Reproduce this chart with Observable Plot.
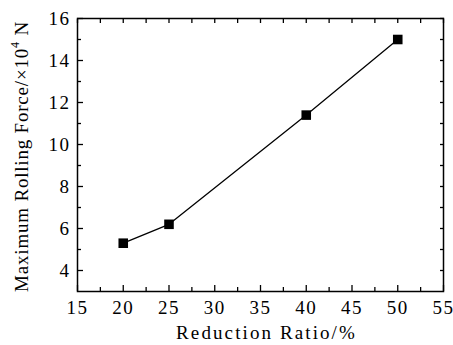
<!DOCTYPE html>
<html>
<head>
<meta charset="utf-8">
<script src="https://cdn.jsdelivr.net/npm/d3@7"></script>
<script src="https://cdn.jsdelivr.net/npm/@observablehq/plot@0.6"></script>
<style>
  html, body { margin: 0; padding: 0; background: white; }
</style>
</head>
<body>
<div id="chart"></div>
<script>
const reduction = [20, 25, 40, 50];
const force = [5.3, 6.2, 11.4, 15.0];
const xTicks = [15, 20, 25, 30, 35, 40, 45, 50, 55];
const xMinorTicks = [17.5, 22.5, 27.5, 32.5, 37.5, 42.5, 47.5, 52.5];
const yTicks = [4, 6, 8, 10, 12, 14, 16];
const yMinorTicks = [5, 7, 9, 11, 13, 15];
const xTitle = "Reduction Ratio/%";

const data = reduction.map((r, i) => ({reduction: r, force: force[i]}));
const blank = () => "";
const SERIF = '"Liberation Serif"';

const plot = Plot.plot({
  width: 453,
  height: 345,
  marginLeft: 77,
  marginTop: 18,
  marginRight: 10,
  marginBottom: 54,
  style: {fontSize: "19px", background: "white", color: "black"},
  x: {domain: [15, 55]},
  y: {domain: [3, 16]},
  marks: [
    Plot.axisX(xTicks, {anchor: "bottom", tickSize: -6, tickFormat: blank, label: null, strokeWidth: 1.3}),
    Plot.axisX(xMinorTicks, {anchor: "bottom", tickSize: -4, tickFormat: blank, label: null, strokeWidth: 1.3}),
    Plot.axisX(xTicks, {anchor: "bottom", tickSize: 0, tickPadding: 9, label: null, tickFormat: d => String(d)}),
    Plot.axisX(xTicks.concat(xMinorTicks), {anchor: "top", tickSize: -4, tickFormat: blank, label: null, strokeWidth: 1.3}),
    Plot.axisY(yTicks, {anchor: "left", tickSize: -6, tickFormat: blank, label: null, strokeWidth: 1.3}),
    Plot.axisY(yMinorTicks, {anchor: "left", tickSize: -4, tickFormat: blank, label: null, strokeWidth: 1.3}),
    Plot.axisY(yTicks, {anchor: "left", tickSize: 0, tickPadding: 7, label: null, tickFormat: d => String(d)}),
    Plot.axisY(yTicks.concat(yMinorTicks), {anchor: "right", tickSize: -4, tickFormat: blank, label: null, strokeWidth: 1.3}),
    Plot.frame({stroke: "black", strokeWidth: 1.5}),
    Plot.line(data, {x: "reduction", y: "force", stroke: "black", strokeWidth: 1.3}),
    Plot.dot(data, {x: "reduction", y: "force", symbol: "square", r: 5.4, fill: "black", stroke: "none"}),
    Plot.text([xTitle], {frameAnchor: "bottom", dy: 41, dx: 6, text: d => d, fontSize: 19, fill: "black", lineAnchor: "middle"})
  ]
});

const svg = d3.select(plot);
svg.style("font-family", SERIF);
svg.selectAll("g, text").style("font-family", SERIF);
svg.selectAll("text").attr("letter-spacing", "1.5");
svg.selectAll("g[aria-label='text'] text").attr("letter-spacing", "2.1");
const ty = svg.append("text")
  .attr("transform", `translate(24, ${(18 + 291) / 2 + 2}) rotate(-90)`)
  .attr("text-anchor", "middle")
  .attr("dominant-baseline", "middle")
  .style("font-family", SERIF)
  .attr("font-size", 19)
  .attr("letter-spacing", "0.8")
  .attr("fill", "black");
ty.append("tspan").text("Maximum Rolling Force/\u00D710");
ty.append("tspan").attr("font-size", 12).attr("dy", -8).text("4");
ty.append("tspan").attr("dy", 8).text(" N");

document.getElementById("chart").appendChild(plot);
</script>
</body>
</html>
